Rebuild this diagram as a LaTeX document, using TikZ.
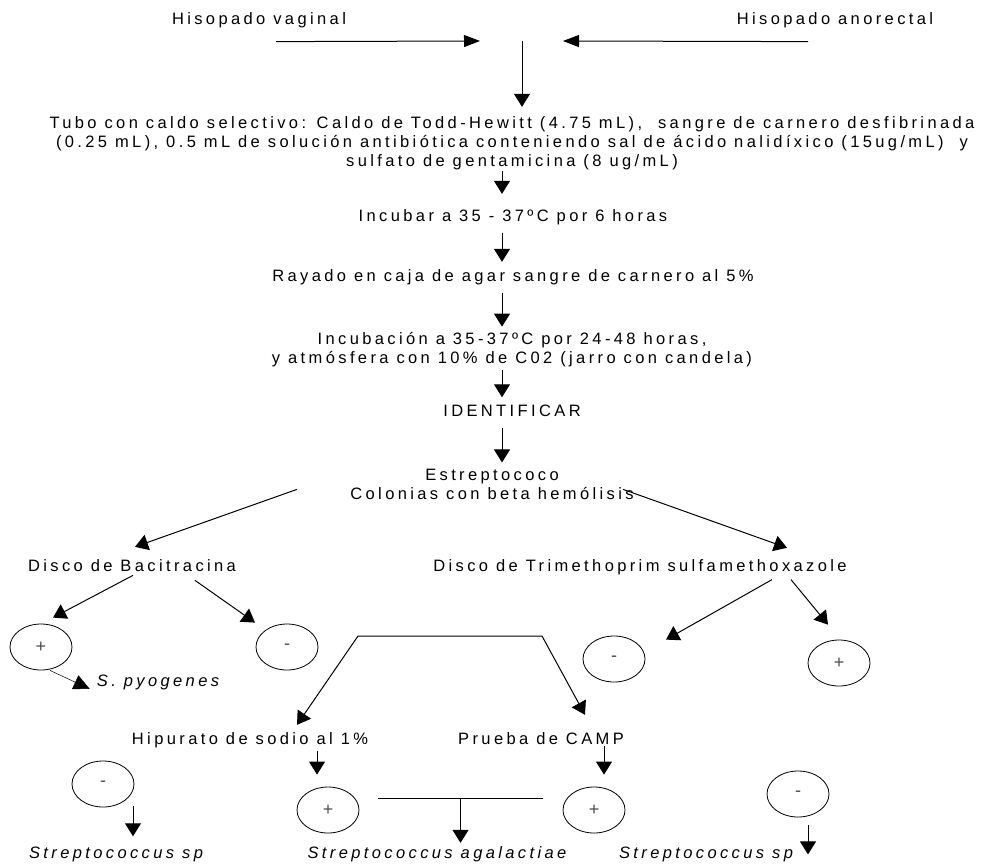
\documentclass[tikz,border=0pt]{standalone}
\usepackage{fontspec}
\setmainfont{Liberation Sans}[LetterSpace=20.5]
\usetikzlibrary{arrows.meta, shapes.geometric}

\begin{document}
\begin{tikzpicture}[x=1pt, y=-1pt,
    txt/.style={font=\fontsize{16.5}{19}\selectfont, inner sep=0pt, anchor=base, align=center},
    spc/.style={txt, font=\fontsize{16.5}{19}\selectfont\itshape},
    res/.style={ellipse, draw, line width=0.8pt, minimum width=62pt, minimum height=46pt, inner sep=0pt, font=\fontsize{18}{18}\selectfont, text=black!70},
    arr/.style={line width=1pt, -{Triangle[length=13pt, width=16pt]}},
    bar/.style={line width=1pt}]
    \useasboundingbox (0,0) rectangle (981,866);

    \node[txt] (vag) at (259,25) {Hisopado vaginal};
    \node[txt] (ano) at (835,25) {Hisopado anorectal};
    \coordinate (mix) at (522,41);
    \node[txt] (tubo) at (512,167) {Tubo con caldo selectivo: Caldo de Todd-Hewitt (4.75 mL),~ sangre de carnero desfibrinada\\(0.25 mL), 0.5 mL de solución antibiótica conteniendo sal de ácido nalidíxico (15ug/mL)~ y\\sulfato de gentamicina (8 ug/mL)};
    \node[txt] (inc6) at (513,222) {Incubar a 35 - 37ºC por 6 horas};
    \node[txt] (rayado) at (513,281) {Rayado en caja de agar sangre de carnero al 5\%};
    \node[txt] (inc24) at (512,363) {Incubación a 35-37ºC por 24-48 horas,\\y atmósfera con 10\% de C02 (jarro con candela)};
    \node[txt] (ident) at (512,416) {IDENTIFICAR};
    \node[txt] (estrep) at (492,499) {Estreptococo\\Colonias con beta hemólisis};
    \node[txt] (bac) at (132,571) {Disco de Bacitracina};
    \node[txt] (tmp) at (640,571) {Disco de Trimethoprim sulfamethoxazole};

    \node[res] (bp) at (41,647) {+};
    \node[res] (bm) at (287,647) {-};
    \node[res] (tm) at (614,659) {-};
    \node[res] (tp) at (839,663) {+};
    \node[spc] (pyog) at (158,686) {S. pyogenes};

    \node[txt] (hip) at (250,744) {Hipurato de sodio al 1\%};
    \node[txt] (camp) at (541,744) {Prueba de CAMP};
    \node[res] (hm) at (103,784) {-};
    \node[res] (hp) at (328,810) {+};
    \node[res] (cp) at (594,810) {+};
    \node[res] (rm) at (798,794) {-};
    \node[spc] (sp1) at (116,858) {Streptococcus sp};
    \node[spc] (agal) at (437,858) {Streptococcus agalactiae};
    \node[spc] (sp2) at (706,858) {Streptococcus sp};

    \draw[line width=1pt, -{Triangle[length=16pt, width=12pt]}] ([xshift=17pt,yshift=-13pt]vag.south) -- ([xshift=-42pt]mix);
    \draw[line width=1pt, -{Triangle[length=16pt, width=12pt]}] ([xshift=-27pt,yshift=-13pt]ano.south) -- ([xshift=41pt]mix);
    \draw[arr, shorten >=10pt] (mix) -- (mix |- tubo.north);

    \coordinate (ax) at (502,0);
    \draw[arr, shorten >=16pt] (tubo.south -| ax) -- (inc6.north -| ax);
    \draw[arr, shorten <=7pt, shorten >=7pt] (inc6.south -| ax) -- (rayado.north -| ax);
    \draw[arr, shorten <=8pt, shorten >=5pt] (rayado.south -| ax) -- (inc24.north -| ax);
    \draw[arr, shorten <=3pt, shorten >=7pt] (inc24.south -| ax) -- (ident.north -| ax);
    \draw[arr, shorten <=12pt, shorten >=6pt] (ident.south -| ax) -- (estrep.north -| ax);

    \draw[arr] ([xshift=-195pt,yshift=10pt]estrep.south) -- ([xshift=3pt,yshift=12pt]bac.north);
    \draw[arr] ([xshift=131pt,yshift=10pt]estrep.south) -- ([xshift=147pt,yshift=11pt]tmp.north);
    \draw[arr] ([xshift=1pt,yshift=-4pt]bac.south) -- ([xshift=12pt,yshift=6pt]bp.north);
    \draw[arr] ([xshift=63pt,yshift=-9pt]bac.south) -- ([xshift=-32pt,yshift=1pt]bm.north);
    \draw[arr] ([xshift=132pt,yshift=-5pt]tmp.south) -- ([xshift=52pt,yshift=-4pt]tm.north);
    \draw[arr] ([xshift=151pt,yshift=-5pt]tmp.south) -- ([xshift=-11pt,yshift=15pt]tp.north);
    \draw[line width=0.5pt, -{Triangle[length=16pt, width=15pt]}] ([xshift=9pt]bp.south) -- ([xshift=-7pt,yshift=-7pt]pyog.west);

    \coordinate (tl) at (358,636);
    \coordinate (tr) at (542,636);
    \draw[line width=1pt, {Triangle[length=13pt, width=16pt]}-{Triangle[length=13pt, width=16pt]}] ([xshift=47pt,yshift=7pt]hip.north) -- (tl) -- (tr) -- ([xshift=44pt,yshift=17pt]camp.north);

    \draw[arr] ([xshift=67pt,yshift=-3pt]hip.south) -- ([xshift=-11pt,yshift=12pt]hp.north);
    \draw[arr] ([xshift=63pt,yshift=-2pt]camp.south) -- ([xshift=10pt,yshift=12pt]cp.north);
    \draw[arr] ([xshift=30pt,yshift=1pt]hm.south) -- ([xshift=17pt,yshift=10pt]sp1.north);
    \draw[bar] ([xshift=19pt,yshift=12pt]hp.east) -- coordinate[pos=0.5] (ag) ([xshift=-20pt,yshift=12pt]cp.west);
    \draw[arr, shorten >=3pt] (ag) -- (ag |- agal.north);
    \draw[arr] ([xshift=10pt,yshift=-8pt]rm.south) -- ++(0,29);
\end{tikzpicture}
\end{document}
